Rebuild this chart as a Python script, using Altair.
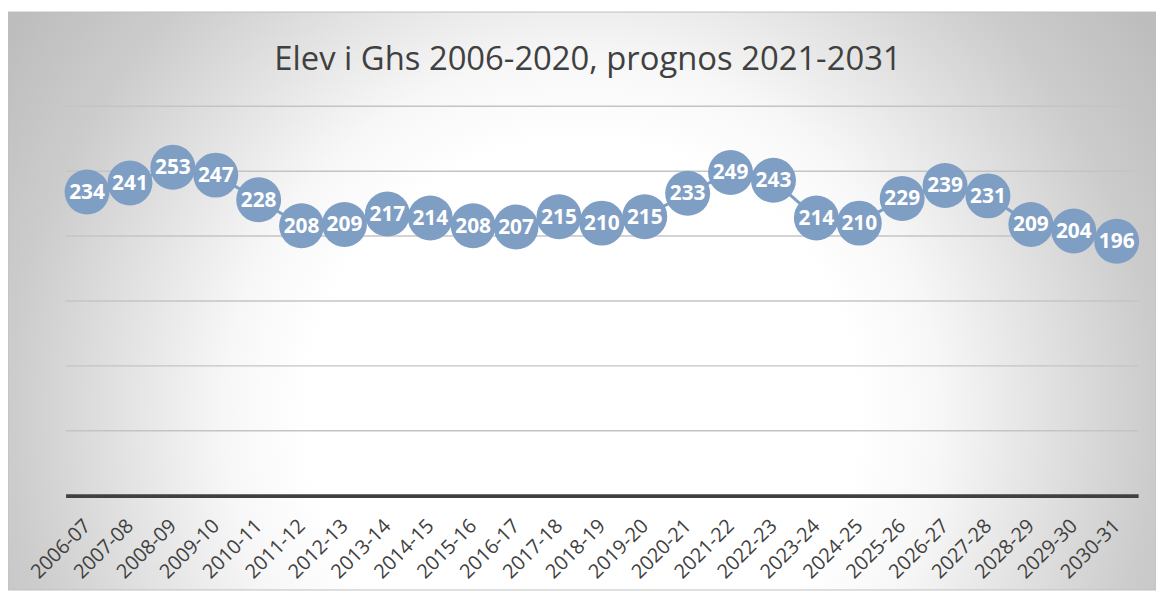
import altair as alt
import pandas as pd

years = ["2006-07", "2007-08", "2008-09", "2009-10", "2010-11", "2011-12", "2012-13",
         "2013-14", "2014-15", "2015-16", "2016-17", "2017-18", "2018-19", "2019-20",
         "2020-21", "2021-22", "2022-23", "2023-24", "2024-25", "2025-26", "2026-27",
         "2027-28", "2028-29", "2029-30", "2030-31"]
students = [234, 241, 253, 247, 228, 208, 209, 217, 214, 208, 207, 215, 210, 215,
            233, 249, 243, 214, 210, 229, 239, 231, 209, 204, 196]
grid_values = [50, 100, 150, 200, 250, 300]
title_text = "Elev i Ghs 2006-2020, prognos 2021-2031"

df = pd.DataFrame({"year": years, "students": students})
grid_df = pd.DataFrame({"v": grid_values})

W, H = 1080, 392
BLUE = "#7F9EC4"

bg_fill = {
    "gradient": "radial",
    "x1": 0.5, "y1": 0.6, "r1": 0,
    "x2": 0.5, "y2": 0.6, "r2": 0.6,
    "stops": [
        {"offset": 0, "color": "#ffffff"},
        {"offset": 0.4, "color": "#ffffff"},
        {"offset": 0.52, "color": "#f7f7f7"},
        {"offset": 0.83, "color": "#cccccc"},
        {"offset": 1, "color": "#bdbdbd"},
    ],
}

background = alt.Chart(pd.DataFrame({"a": [0]})).mark_rect(
    fill=bg_fill, stroke="#bfbfbf", strokeWidth=1
).encode(
    x=alt.value(-58), x2=alt.value(1098), y=alt.value(-95), y2=alt.value(487)
)

title = alt.Chart(pd.DataFrame({"t": [title_text]})).mark_text(
    font="Open Sans", fontSize=33, color="#404040", align="center",
    baseline="alphabetic"
).encode(text="t:N", x=alt.value(526), y=alt.value(-37))

yscale = alt.Scale(domain=[0, 300], nice=False, zero=True)

grid = alt.Chart(grid_df).mark_rule(color="#c4c4c4", strokeWidth=1.5).encode(
    y=alt.Y("v:Q", scale=yscale, axis=None)
)

xenc = alt.X(
    "year:N", sort=years, title=None,
    scale=alt.Scale(padding=0.5),
    axis=alt.Axis(
        labelAngle=-45, labelAlign="right", labelBaseline="middle",
        labelFont="Open Sans", labelFontSize=20, labelColor="#404040",
        labelPadding=27, ticks=False, domainColor="#404040", domainWidth=4,
        grid=False, zindex=1, labelOverlap=False,
    ),
)
yenc = alt.Y("students:Q", scale=yscale, axis=None)

base = alt.Chart(df).encode(x=xenc, y=yenc)
line = base.mark_line(color=BLUE, strokeWidth=3)
points = base.mark_circle(size=2050, color=BLUE, opacity=1)
labels = base.mark_text(
    color="white", font="Open Sans", fontWeight="bold", fontSize=21,
    baseline="middle", align="center", dy=1
).encode(text=alt.Text("students:Q"))

chart = alt.layer(background, title, grid, line, points, labels).properties(
    width=W, height=H,
    autosize=alt.AutoSizeParams(type="none"),
    padding={"left": 58, "top": 97, "right": 18, "bottom": 95},
).configure_view(stroke=None)

chart.save("out.html", embed_options={"renderer": "svg", "actions": False})
